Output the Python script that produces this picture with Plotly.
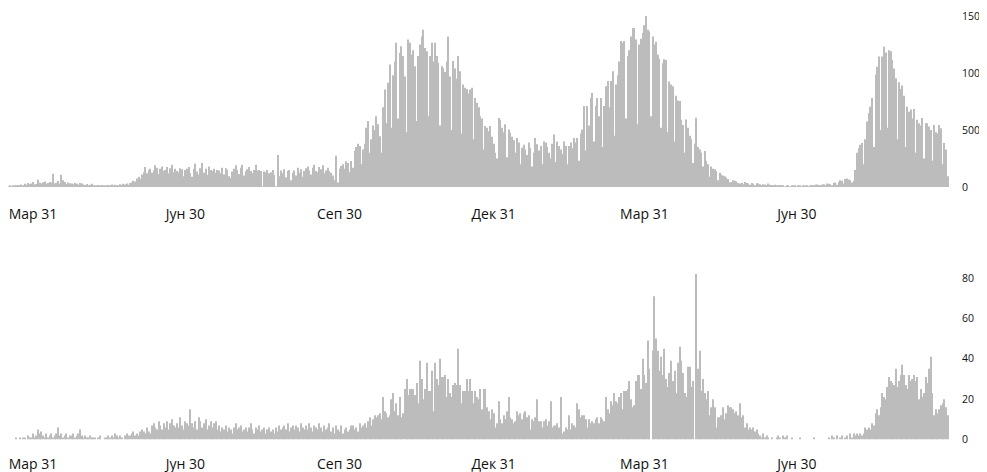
import plotly.graph_objects as go
import pandas as pd

# Daily values starting 2020-03-12
start_date = "2020-03-12"

cases = [
    2, 5, 3, 6, 4, 8, 5,
    10, 14, 8, 18, 12, 22, 15,
    28, 20, 35, 25, 30, 44, 22,
    26, 64, 38, 30, 42, 48, 28,
    35, 45, 40, 117, 30, 38, 52,
    28, 108, 60, 45, 25, 40, 32,
    30, 24, 38, 28, 20, 35, 30,
    22, 18, 26, 15, 20, 28, 14,
    8, 12, 16, 10, 18, 12, 9,
    12, 18, 14, 22, 15, 20, 10,
    16, 24, 18, 28, 22, 30, 20,
    35, 42, 55, 48, 75, 90, 70,
    110, 130, 175, 120, 150, 160, 125,
    145, 190, 170, 115, 160, 180, 140,
    150, 175, 120, 165, 195, 130, 160,
    140, 130, 165, 155, 95, 150, 160,
    175, 120, 90, 160, 205, 135, 110,
    165, 210, 125, 160, 105, 180, 150,
    140, 160, 125, 150, 145, 120, 170,
    110, 165, 150, 95, 80, 135, 160,
    190, 150, 115, 170, 195, 100, 140,
    155, 175, 140, 120, 150, 195, 145,
    150, 140, 5, 135, 130, 150, 120,
    130, 150, 105, 5, 280, 95, 145,
    120, 155, 85, 140, 150, 60, 125,
    145, 100, 170, 125, 155, 90, 140,
    165, 180, 145, 110, 170, 195, 140,
    130, 175, 155, 190, 120, 145, 170,
    140, 125, 100, 60, 275, 40, 160,
    185, 200, 160, 225, 210, 130, 228,
    170, 315, 350, 380, 360, 200, 330,
    380, 520, 580, 300, 420, 540, 500,
    620, 550, 445, 300, 700, 855, 560,
    915, 1075, 520, 980, 1100, 1265, 600,
    1175, 1235, 1150, 970, 480, 1295, 1265,
    1160, 1200, 1060, 580, 1150, 1250, 1320,
    1380, 1220, 1190, 620, 1150, 1265, 1100,
    1265, 1150, 1090, 540, 1060, 1045, 1010,
    1100, 1320, 970, 500, 1105, 1040, 950,
    1150, 1015, 470, 900, 870, 860, 820,
    855, 870, 420, 780, 740, 700, 620,
    600, 330, 535, 520, 490, 535, 440,
    380, 300, 250, 605, 590, 520, 480,
    550, 260, 505, 475, 440, 410, 300,
    430, 390, 200, 345, 370, 330, 280,
    390, 345, 180, 300, 430, 375, 320,
    360, 200, 400, 390, 350, 300, 250,
    380, 460, 220, 400, 360, 330, 290,
    400, 360, 200, 360, 390, 340, 430,
    390, 430, 230, 470, 505, 710, 320,
    710, 540, 780, 825, 400, 710, 780,
    620, 780, 350, 710, 885, 930, 700,
    930, 1015, 450, 900, 980, 1100, 1280,
    1265, 1280, 600, 1150, 1200, 1320, 1395,
    1395, 1295, 550, 1250, 1300, 1350, 1420,
    1500, 1380, 1365, 620, 1320, 1250, 1275,
    1160, 1125, 520, 1085, 1120, 1115, 480,
    925, 900, 885, 400, 800, 760, 755,
    590, 545, 300, 593, 520, 450, 418,
    210, 380, 607, 350, 330, 300, 180,
    315, 228, 200, 90, 180, 160, 155,
    140, 60, 125, 110, 100, 95, 82,
    70, 40, 44, 60, 55, 50, 35,
    30, 38, 25, 45, 35, 30, 20,
    35, 28, 15, 32, 30, 25, 18,
    25, 22, 12, 30, 20, 18, 10,
    20, 15, 8, 18, 14, 12, 6,
    12, 10, 5, 14, 10, 8, 4,
    8, 12, 5, 10, 15, 12, 6,
    15, 18, 8, 20, 22, 18, 10,
    22, 25, 12, 30, 28, 25, 15,
    35, 40, 20, 45, 60, 55, 30,
    70, 75, 65, 60, 40, 55, 150,
    300, 340, 370, 385, 200, 420, 575,
    650, 705, 780, 350, 985, 1055, 1145,
    500, 1145, 1230, 1180, 520, 1200, 1190,
    1115, 1040, 955, 420, 920, 860, 890,
    800, 350, 705, 660, 680, 600, 685,
    300, 590, 560, 540, 605, 250, 560,
    560, 530, 500, 230, 545, 480, 470,
    545, 515, 200, 385, 330, 95,
]

deaths = [
    0, 0, 0, 0, 0, 0, 0,
    0, 0, 1, 0, 1, 0, 1,
    1, 0, 2, 1, 1, 3, 1,
    2, 5, 3, 4, 2, 1, 3,
    1, 2, 3, 1, 2, 3, 6,
    2, 3, 1, 2, 3, 1, 2,
    2, 3, 1, 2, 3, 5, 2,
    1, 2, 1, 1, 2, 1, 1,
    1, 0, 1, 2, 0, 0, 1,
    1, 2, 1, 2, 1, 3, 2,
    1, 2, 1, 0, 2, 3, 2,
    2, 3, 4, 2, 3, 2, 4,
    5, 4, 3, 6, 4, 3, 7,
    8, 6, 5, 9, 7, 5, 8,
    6, 9, 5, 8, 10, 7, 6,
    8, 6, 11, 7, 5, 9, 8,
    7, 15, 8, 6, 9, 5, 11,
    9, 6, 8, 10, 5, 7, 9,
    6, 8, 9, 5, 7, 4, 6,
    5, 7, 4, 6, 5, 3, 6,
    8, 5, 6, 7, 4, 5, 6,
    4, 6, 8, 5, 3, 6, 5,
    7, 4, 5, 6, 3, 5, 6,
    4, 5, 3, 6, 4, 7, 5,
    6, 7, 5, 8, 4, 6, 7,
    5, 7, 6, 4, 8, 6, 5,
    7, 5, 8, 6, 4, 7, 6,
    5, 8, 6, 4, 7, 5, 6,
    8, 4, 6, 3, 7, 5, 4,
    7, 3, 5, 6, 4, 5, 7,
    7, 5, 6, 4, 8, 6, 7,
    8, 6, 9, 11, 7, 10, 12,
    11, 12, 13, 10, 21, 14, 13,
    11, 12, 20, 23, 14, 18, 12,
    21, 11, 13, 25, 30, 22, 25,
    25, 25, 22, 28, 18, 39, 30,
    20, 25, 38, 24, 24, 34, 14,
    38, 30, 27, 40, 31, 31, 32,
    21, 30, 23, 21, 27, 28, 27,
    45, 27, 18, 24, 24, 30, 24,
    30, 24, 18, 24, 21, 20, 25,
    15, 25, 25, 16, 14, 10, 15,
    13, 6, 8, 19, 10, 8, 12,
    10, 14, 21, 11, 10, 8, 9,
    14, 12, 13, 10, 13, 14, 11,
    12, 5, 10, 9, 11, 20, 9,
    9, 6, 9, 10, 7, 9, 19,
    6, 7, 7, 8, 6, 21, 3,
    4, 6, 5, 12, 5, 8, 7,
    6, 18, 15, 11, 12, 12, 10,
    6, 10, 8, 9, 8, 10, 11,
    8, 11, 10, 9, 21, 15, 13,
    19, 17, 23, 19, 18, 21, 23,
    15, 24, 24, 25, 29, 20, 16,
    17, 29, 32, 32, 25, 40, 32,
    28, 49, 35, 0, 44, 71, 50,
    44, 34, 41, 32, 45, 30, 26,
    33, 39, 29, 34, 23, 38, 46,
    39, 33, 23, 21, 36, 36, 26,
    29, 0, 82, 35, 44, 24, 30,
    23, 20, 24, 12, 16, 20, 16,
    6, 11, 11, 12, 16, 10, 13,
    17, 16, 16, 15, 13, 14, 12,
    18, 11, 12, 6, 8, 5, 6,
    5, 6, 4, 5, 3, 2, 1,
    3, 1, 2, 1, 0, 1, 0,
    0, 1, 2, 1, 0, 2, 1,
    2, 0, 0, 1, 0, 0, 0,
    0, 1, 0, 0, 0, 0, 0,
    0, 0, 1, 0, 0, 0, 0,
    0, 0, 0, 0, 1, 0, 2,
    1, 0, 2, 0, 1, 2, 0,
    1, 2, 0, 3, 1, 3, 2,
    3, 2, 3, 2, 3, 6, 5,
    6, 5, 8, 7, 13, 15, 12,
    16, 23, 21, 20, 26, 31, 29,
    28, 27, 35, 26, 29, 32, 37,
    32, 27, 25, 32, 29, 30, 32,
    29, 31, 20, 25, 21, 23, 31,
    28, 35, 41, 23, 12, 15, 13,
    15, 17, 18, 20, 16, 12,
]

tick_dates = ["2020-03-31", "2020-06-30", "2020-09-30", "2020-12-31", "2021-03-31", "2021-06-30"]
tick_labels = ["Мар 31", "Јун 30", "Сеп 30", "Дек 31", "Мар 31", "Јун 30"]
cases_ticks = [0, 500, 1000, 1500]
deaths_ticks = [0, 20, 40, 60, 80]

BAR_COLOR = "#bdbcbc"
FONT = "Open Sans"

dates = pd.date_range(start_date, periods=len(cases), freq="D")
dates2 = pd.date_range(start_date, periods=len(deaths), freq="D")

fig = go.Figure()
fig.add_trace(go.Bar(x=dates, y=cases, marker=dict(color=BAR_COLOR, line=dict(width=0)),
                     xaxis="x", yaxis="y", hoverinfo="x+y"))
fig.add_trace(go.Bar(x=dates2, y=deaths, marker=dict(color=BAR_COLOR, line=dict(width=0)),
                     xaxis="x2", yaxis="y2", hoverinfo="x+y"))

xrange = ["2020-03-16 01:40", "2021-09-29 11:00"]
xcommon = dict(type="date", range=xrange, tickvals=tick_dates, ticktext=tick_labels,
               showgrid=False, zeroline=False, showline=False, ticks="",
               tickfont=dict(family=FONT, size=14, color="#111111"),
               automargin=False, fixedrange=True)
ycommon = dict(side="right", showgrid=False, zeroline=False, showline=False, ticks="",
               tickfont=dict(family=FONT, size=10.5, color="#111111"),
               ticklabelstandoff=11, automargin=False, fixedrange=True)

fig.update_layout(
    template="none",
    width=979, height=464,
    margin=dict(l=0, r=37, t=0, b=0),
    paper_bgcolor="white", plot_bgcolor="white",
    showlegend=False,
    bargap=0.36,
    font=dict(family=FONT),
    xaxis=dict(domain=[0, 1], anchor="y", ticklabelstandoff=17, **xcommon),
    yaxis=dict(domain=[0.6142, 0.9950], anchor="x", range=[0, 1550], tickvals=cases_ticks, **ycommon),
    xaxis2=dict(domain=[0, 1], anchor="y2", ticklabelstandoff=14, **xcommon),
    yaxis2=dict(domain=[0.0700, 0.4399], anchor="x2", range=[0, 85], tickvals=deaths_ticks, **ycommon),
)

fig.write_html("out.html")
